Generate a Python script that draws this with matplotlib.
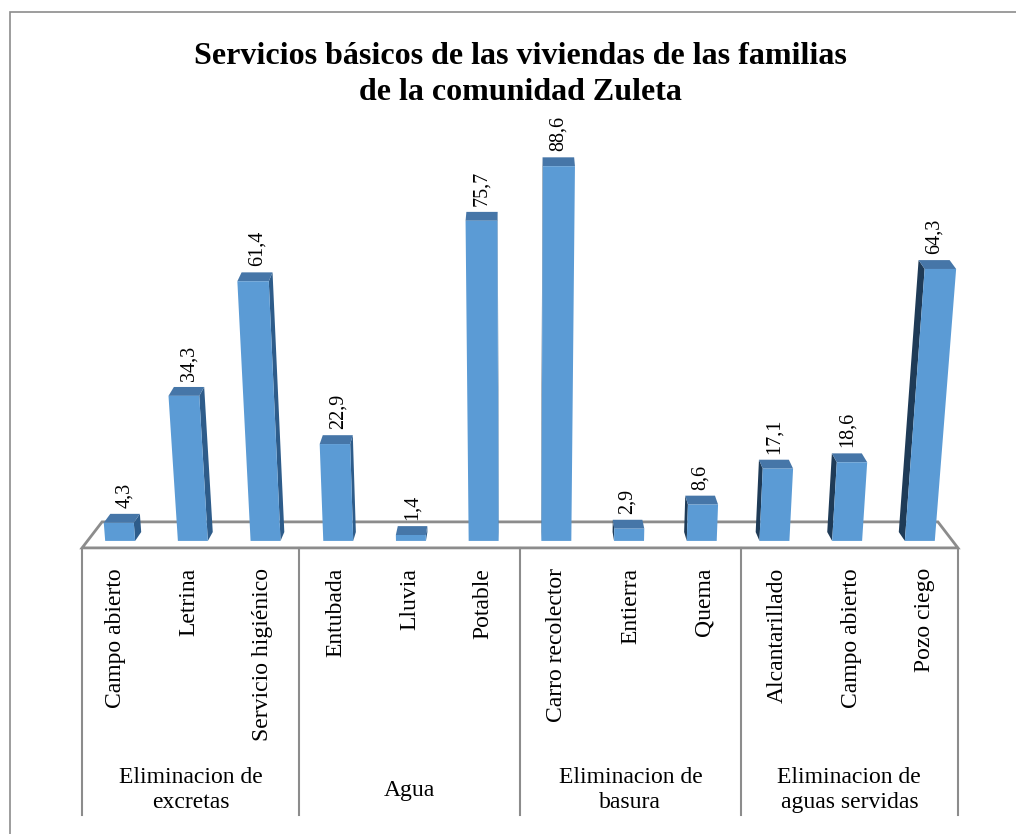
import numpy as np
import matplotlib.pyplot as plt
from matplotlib.patches import Polygon, Rectangle

plt.rcParams['font.family'] = ['Liberation Serif', 'DejaVu Serif']

# datos
grupos = ['Eliminacion de\nexcretas', 'Agua', 'Eliminacion de\nbasura',
          'Eliminacion de\naguas servidas']
tam_grupo = [3, 3, 3, 3]
categorias = ['Campo abierto', 'Letrina', 'Servicio higiénico',
              'Entubada', 'Lluvia', 'Potable',
              'Carro recolector', 'Entierra', 'Quema',
              'Alcantarillado', 'Campo abierto', 'Pozo ciego']
valores = [4.3, 34.3, 61.4, 22.9, 1.4, 75.7, 88.6, 2.9, 8.6, 17.1, 18.6, 64.3]
titulo = 'Servicios básicos de las viviendas de las familias\nde la comunidad Zuleta'

n = len(valores)
cx = (n - 1) / 2
A = 0.0008    # apertura con la altura
B = 0.0075    # convergencia con la profundidad


def proj(x, h, d):
    f = 1 + A * h - B * d
    return cx + (x - cx) * f, h + d


fig = plt.figure(figsize=(10.16, 8.34), dpi=100)
ax = fig.add_axes([0, 0, 1, 1])
ax.set_xlim(-1.653, 12.323)
ax.set_ylim(-69.3, 127.9)
ax.axis('off')

# borde del grafico
fig.patches.append(Rectangle((10 / 1016, -0.05), 1.1, 1.05 - 12 / 834,
                             transform=fig.transFigure, fill=False,
                             edgecolor='#8c8c8c', lw=1.2))

# piso
d0, d1 = -1.65, 4.5
xl, xr = -0.45, n - 1 + 0.45
piso = [proj(xl, 0, d0), proj(xr, 0, d0), proj(xr, 0, d1), proj(xl, 0, d1)]
ax.add_patch(Polygon(piso, closed=True, facecolor='white',
                     edgecolor='#8c8c8c', lw=2, zorder=1))

# barras
w = 0.206
D = 2.1
for i, v in enumerate(valores):
    if i < cx:
        s = i + w
        lado_col = '#2E5C8A'
    else:
        s = i - w
        lado_col = '#1F3B57'
    lado = [proj(s, 0, 0), proj(s, v, 0), proj(s, v, D), proj(s, 0, D)]
    tapa = [proj(i - w, v, 0), proj(i + w, v, 0), proj(i + w, v, D), proj(i - w, v, D)]
    frente = [proj(i - w, 0, 0), proj(i + w, 0, 0), proj(i + w, v, 0), proj(i - w, v, 0)]
    ax.add_patch(Polygon(lado, closed=True, facecolor=lado_col, edgecolor='none', zorder=2))
    ax.add_patch(Polygon(tapa, closed=True, facecolor='#4676A8', edgecolor='none', zorder=2))
    ax.add_patch(Polygon(frente, closed=True, facecolor='#5B9BD5', edgecolor='none', zorder=3))
    tx, ty = proj(i, v, D)
    ax.text(tx, ty + 1.4, f'{v:.1f}'.replace('.', ','), rotation=90,
            ha='center', va='bottom', fontsize=14.5, zorder=4)

# etiquetas de categoria
y_fondo = -64.8
for i, c in enumerate(categorias):
    x, _ = proj(i, 0, d0)
    ax.text(x, -6.4, c, rotation=90, ha='center', va='top', fontsize=17)

# divisiones y grupos
bordes = np.concatenate([[xl], np.cumsum(tam_grupo)[:-1] - 0.5, [xr]])
for b in bordes:
    x, y = proj(b, 0, d0)
    ax.plot([x, x], [y, y_fondo], color='#8c8c8c', lw=1.5, zorder=1)
for g, (a, b) in enumerate(zip(bordes[:-1], bordes[1:])):
    xa, _ = proj(a, 0, d0)
    xb, _ = proj(b, 0, d0)
    ax.text((xa + xb) / 2, -59.0, grupos[g], ha='center', va='center',
            fontsize=17, linespacing=1.25)

fig.text(0.512, 0.911, titulo, ha='center', va='center', fontsize=23,
         fontweight='bold', linespacing=1.3)

fig.savefig('out.png', dpi=100)
